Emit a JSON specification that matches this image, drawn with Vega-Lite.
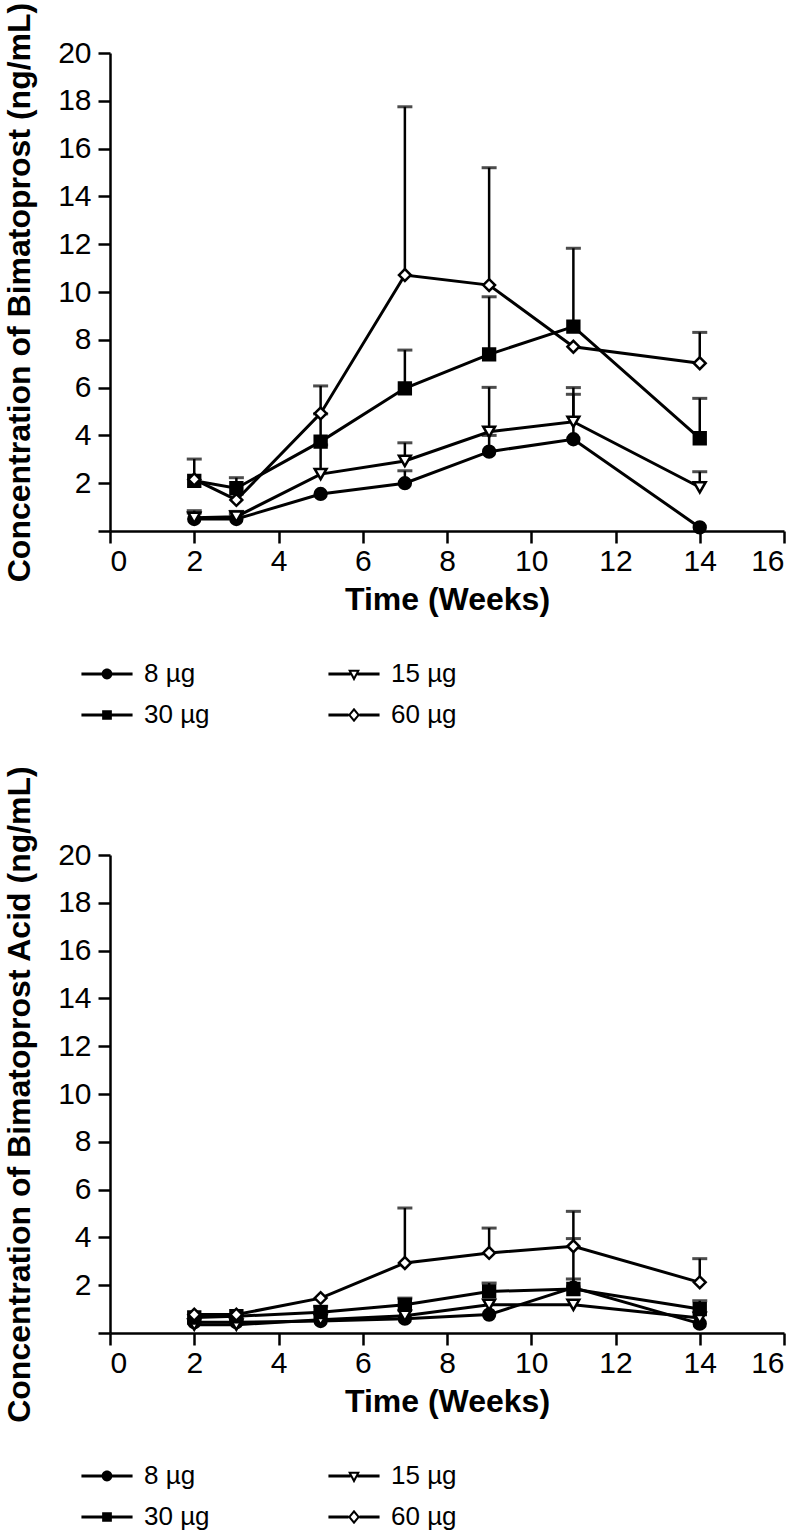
{
  "$schema": "https://vega.github.io/schema/vega-lite/v6.json",
  "background": "white",
  "padding": {"left": 3, "top": 2, "right": 10, "bottom": 0},
  "spacing": 37,
  "config": {
    "view": {"stroke": null},
    "font": "Liberation Sans",
    "axis": {
      "grid": false,
      "domainColor": "black",
      "domainWidth": 2.5,
      "tickColor": "black",
      "tickWidth": 2.5,
      "tickSize": 12,
      "labelFont": "Liberation Sans",
      "labelFontSize": 30,
      "labelColor": "black",
      "titleFont": "Liberation Sans",
      "titleFontSize": 32,
      "titleFontWeight": "bold",
      "titleColor": "black"
    },
    "legend": {
      "padding": 0,
      "labelFont": "Liberation Sans",
      "labelFontSize": 26,
      "labelColor": "black"
    }
  },
  "datasets": {
    "bima": [
      {"dose": "8 µg", "week": 2, "mean": 0.5, "upper": 0.75},
      {"dose": "8 µg", "week": 3, "mean": 0.5, "upper": 0.7},
      {"dose": "8 µg", "week": 5, "mean": 1.55, "upper": null},
      {"dose": "8 µg", "week": 7, "mean": 2.0, "upper": 2.52},
      {"dose": "8 µg", "week": 9, "mean": 3.32, "upper": 4.0},
      {"dose": "8 µg", "week": 11, "mean": 3.84, "upper": 5.72},
      {"dose": "8 µg", "week": 14, "mean": 0.15, "upper": null},
      {"dose": "15 µg", "week": 2, "mean": 0.55, "upper": 0.85},
      {"dose": "15 µg", "week": 3, "mean": 0.6, "upper": 0.82},
      {"dose": "15 µg", "week": 5, "mean": 2.38, "upper": 3.6},
      {"dose": "15 µg", "week": 7, "mean": 2.93, "upper": 3.69},
      {"dose": "15 µg", "week": 9, "mean": 4.15, "upper": 6.01},
      {"dose": "15 µg", "week": 11, "mean": 4.57, "upper": 6.0},
      {"dose": "15 µg", "week": 14, "mean": 1.83, "upper": 2.48},
      {"dose": "30 µg", "week": 2, "mean": 2.1, "upper": null},
      {"dose": "30 µg", "week": 3, "mean": 1.79, "upper": 2.23},
      {"dose": "30 µg", "week": 5, "mean": 3.74, "upper": 4.9},
      {"dose": "30 µg", "week": 7, "mean": 5.97, "upper": 7.57},
      {"dose": "30 µg", "week": 9, "mean": 7.39, "upper": 9.8},
      {"dose": "30 µg", "week": 11, "mean": 8.55, "upper": 11.83},
      {"dose": "30 µg", "week": 14, "mean": 3.88, "upper": 5.55},
      {"dose": "60 µg", "week": 2, "mean": 2.16, "upper": 3.01},
      {"dose": "60 µg", "week": 3, "mean": 1.3, "upper": null},
      {"dose": "60 µg", "week": 5, "mean": 4.92, "upper": 6.07},
      {"dose": "60 µg", "week": 7, "mean": 10.71, "upper": 17.75},
      {"dose": "60 µg", "week": 9, "mean": 10.29, "upper": 15.2},
      {"dose": "60 µg", "week": 11, "mean": 7.71, "upper": null},
      {"dose": "60 µg", "week": 14, "mean": 7.02, "upper": 8.31}
    ],
    "acid": [
      {"dose": "8 µg", "week": 2, "mean": 0.45, "upper": null},
      {"dose": "8 µg", "week": 3, "mean": 0.45, "upper": null},
      {"dose": "8 µg", "week": 5, "mean": 0.5, "upper": null},
      {"dose": "8 µg", "week": 7, "mean": 0.6, "upper": null},
      {"dose": "8 µg", "week": 9, "mean": 0.77, "upper": null},
      {"dose": "8 µg", "week": 11, "mean": 1.9, "upper": 3.95},
      {"dose": "8 µg", "week": 14, "mean": 0.39, "upper": null},
      {"dose": "15 µg", "week": 2, "mean": 0.35, "upper": null},
      {"dose": "15 µg", "week": 3, "mean": 0.35, "upper": null},
      {"dose": "15 µg", "week": 5, "mean": 0.55, "upper": null},
      {"dose": "15 µg", "week": 7, "mean": 0.72, "upper": null},
      {"dose": "15 µg", "week": 9, "mean": 1.18, "upper": null},
      {"dose": "15 µg", "week": 11, "mean": 1.18, "upper": null},
      {"dose": "15 µg", "week": 14, "mean": 0.63, "upper": null},
      {"dose": "30 µg", "week": 2, "mean": 0.65, "upper": null},
      {"dose": "30 µg", "week": 3, "mean": 0.7, "upper": null},
      {"dose": "30 µg", "week": 5, "mean": 0.87, "upper": 1.12},
      {"dose": "30 µg", "week": 7, "mean": 1.18, "upper": 1.46},
      {"dose": "30 µg", "week": 9, "mean": 1.74, "upper": 2.09},
      {"dose": "30 µg", "week": 11, "mean": 1.84, "upper": 2.26},
      {"dose": "30 µg", "week": 14, "mean": 1.0, "upper": 1.35},
      {"dose": "60 µg", "week": 2, "mean": 0.77, "upper": null},
      {"dose": "60 µg", "week": 3, "mean": 0.77, "upper": null},
      {"dose": "60 µg", "week": 5, "mean": 1.46, "upper": null},
      {"dose": "60 µg", "week": 7, "mean": 2.93, "upper": 5.23},
      {"dose": "60 µg", "week": 9, "mean": 3.35, "upper": 4.39},
      {"dose": "60 µg", "week": 11, "mean": 3.63, "upper": 5.09},
      {"dose": "60 µg", "week": 14, "mean": 2.12, "upper": 3.11}
    ]
  },
  "resolve": {
    "scale": {"shape": "independent", "fill": "independent"},
    "legend": {"shape": "independent", "fill": "independent"}
  },
  "vconcat": [
    {
      "width": 674,
      "height": 478,
      "data": {"name": "bima"},
      "resolve": {"scale": {"shape": "independent"}},
      "encoding": {
        "x": {
          "field": "week", "type": "quantitative",
          "scale": {"domain": [0, 16], "nice": false},
          "axis": {"values": [0, 2, 4, 6, 8, 10, 12, 14, 16], "title": "Time (Weeks)", "labelPadding": 3, "titlePadding": 8}
        }
      },
      "layer": [
        {
          "mark": {"type": "line", "color": "black", "strokeWidth": 3},
          "encoding": {
            "y": {
              "field": "mean", "type": "quantitative",
              "scale": {"domain": [0, 20], "nice": false},
              "title": "Concentration of Bimatoprost (ng/mL)",
              "axis": {"values": [0, 2, 4, 6, 8, 10, 12, 14, 16, 18, 20], "labelExpr": "datum.value === 0 ? '' : datum.label", "labelPadding": 7, "titlePadding": 21}
            },
            "detail": {"field": "dose"}
          }
        },
        {
          "transform": [{"filter": "isValid(datum.upper)"}],
          "mark": {"type": "rule", "color": "black", "strokeWidth": 2.5},
          "encoding": {
            "y": {"field": "mean", "type": "quantitative", "title": "Concentration of Bimatoprost (ng/mL)"},
            "y2": {"field": "upper"}
          }
        },
        {
          "transform": [{"filter": "isValid(datum.upper)"}],
          "mark": {"type": "tick", "orient": "horizontal", "color": "black", "thickness": 3, "size": 15},
          "encoding": {
            "y": {"field": "upper", "type": "quantitative", "title": "Concentration of Bimatoprost (ng/mL)"}
          }
        },
        {
          "mark": {"type": "point", "filled": true, "stroke": "black", "strokeWidth": 2.5, "size": 140, "opacity": 1},
          "encoding": {
            "y": {"field": "mean", "type": "quantitative", "title": "Concentration of Bimatoprost (ng/mL)"},
            "shape": {
              "field": "dose", "type": "nominal",
              "scale": {"domain": ["8 µg", "15 µg", "30 µg", "60 µg"], "range": ["circle", "triangle-down", "square", "diamond"]},
              "legend": null
            },
            "fill": {
              "field": "dose", "type": "nominal",
              "scale": {"domain": ["8 µg", "15 µg", "30 µg", "60 µg"], "range": ["black", "white", "black", "white"]},
              "legend": null
            }
          }
        },
        {
          "mark": {"type": "point", "filled": true, "color": "black", "opacity": 0},
          "encoding": {
            "y": {"field": "mean", "type": "quantitative", "title": "Concentration of Bimatoprost (ng/mL)"},
            "shape": {
              "field": "dose", "type": "nominal",
              "scale": {"domain": ["8 µg", "15 µg", "30 µg", "60 µg"], "range": [
                "M-1.42,-0.08L-0.28,-0.08L-0.28,0.08L-1.42,0.08ZM0.28,-0.08L1.42,-0.08L1.42,0.08L0.28,0.08ZM-0.3,0A0.3,0.3,0,1,1,0.3,0A0.3,0.3,0,1,1,-0.3,0Z",
                "M-1.42,-0.08L-0.19,-0.08L-0.19,0.08L-1.42,0.08ZM0.19,-0.08L1.42,-0.08L1.42,0.08L0.19,0.08ZM-0.33,-0.24L0.33,-0.24L0,0.4ZM-0.149,-0.129L0,0.159L0.149,-0.129Z",
                "M-1.42,-0.08L-0.26,-0.08L-0.26,0.08L-1.42,0.08ZM0.26,-0.08L1.42,-0.08L1.42,0.08L0.26,0.08ZM-0.27,-0.27L0.27,-0.27L0.27,0.27L-0.27,0.27Z",
                "M-1.42,-0.08L-0.3,-0.08L-0.3,0.08L-1.42,0.08ZM0.3,-0.08L1.42,-0.08L1.42,0.08L0.3,0.08ZM0,-0.4L0.33,0L0,0.4L-0.33,0ZM0,-0.227L-0.187,0L0,0.227L0.187,0Z"
              ]},
              "legend": {
                "title": null, "orient": "none", "legendX": -21, "legendY": 603, "direction": "horizontal",
                "columns": 2, "symbolSize": 1296, "symbolOpacity": 1, "symbolFillColor": "black", "symbolStrokeWidth": 0,
                "labelOffset": 19, "columnPadding": 118, "rowPadding": 10
              }
            }
          }
        }
      ]
    },
    {
      "width": 674,
      "height": 478,
      "data": {"name": "acid"},
      "resolve": {"scale": {"shape": "independent"}},
      "encoding": {
        "x": {
          "field": "week", "type": "quantitative",
          "scale": {"domain": [0, 16], "nice": false},
          "axis": {"values": [0, 2, 4, 6, 8, 10, 12, 14, 16], "title": "Time (Weeks)", "labelPadding": 3, "titlePadding": 8}
        }
      },
      "layer": [
        {
          "mark": {"type": "line", "color": "black", "strokeWidth": 3},
          "encoding": {
            "y": {
              "field": "mean", "type": "quantitative",
              "scale": {"domain": [0, 20], "nice": false},
              "title": "Concentration of Bimatoprost Acid (ng/mL)",
              "axis": {"values": [0, 2, 4, 6, 8, 10, 12, 14, 16, 18, 20], "labelExpr": "datum.value === 0 ? '' : datum.label", "labelPadding": 7, "titlePadding": 21}
            },
            "detail": {"field": "dose"}
          }
        },
        {
          "transform": [{"filter": "isValid(datum.upper)"}],
          "mark": {"type": "rule", "color": "black", "strokeWidth": 2.5},
          "encoding": {
            "y": {"field": "mean", "type": "quantitative", "title": "Concentration of Bimatoprost Acid (ng/mL)"},
            "y2": {"field": "upper"}
          }
        },
        {
          "transform": [{"filter": "isValid(datum.upper)"}],
          "mark": {"type": "tick", "orient": "horizontal", "color": "black", "thickness": 3, "size": 15},
          "encoding": {
            "y": {"field": "upper", "type": "quantitative", "title": "Concentration of Bimatoprost Acid (ng/mL)"}
          }
        },
        {
          "mark": {"type": "point", "filled": true, "stroke": "black", "strokeWidth": 2.5, "size": 140, "opacity": 1},
          "encoding": {
            "y": {"field": "mean", "type": "quantitative", "title": "Concentration of Bimatoprost Acid (ng/mL)"},
            "shape": {
              "field": "dose", "type": "nominal",
              "scale": {"domain": ["8 µg", "15 µg", "30 µg", "60 µg"], "range": ["circle", "triangle-down", "square", "diamond"]},
              "legend": null
            },
            "fill": {
              "field": "dose", "type": "nominal",
              "scale": {"domain": ["8 µg", "15 µg", "30 µg", "60 µg"], "range": ["black", "white", "black", "white"]},
              "legend": null
            }
          }
        },
        {
          "mark": {"type": "point", "filled": true, "color": "black", "opacity": 0},
          "encoding": {
            "y": {"field": "mean", "type": "quantitative", "title": "Concentration of Bimatoprost Acid (ng/mL)"},
            "shape": {
              "field": "dose", "type": "nominal",
              "scale": {"domain": ["8 µg", "15 µg", "30 µg", "60 µg"], "range": [
                "M-1.42,-0.08L-0.28,-0.08L-0.28,0.08L-1.42,0.08ZM0.28,-0.08L1.42,-0.08L1.42,0.08L0.28,0.08ZM-0.3,0A0.3,0.3,0,1,1,0.3,0A0.3,0.3,0,1,1,-0.3,0Z",
                "M-1.42,-0.08L-0.19,-0.08L-0.19,0.08L-1.42,0.08ZM0.19,-0.08L1.42,-0.08L1.42,0.08L0.19,0.08ZM-0.33,-0.24L0.33,-0.24L0,0.4ZM-0.149,-0.129L0,0.159L0.149,-0.129Z",
                "M-1.42,-0.08L-0.26,-0.08L-0.26,0.08L-1.42,0.08ZM0.26,-0.08L1.42,-0.08L1.42,0.08L0.26,0.08ZM-0.27,-0.27L0.27,-0.27L0.27,0.27L-0.27,0.27Z",
                "M-1.42,-0.08L-0.3,-0.08L-0.3,0.08L-1.42,0.08ZM0.3,-0.08L1.42,-0.08L1.42,0.08L0.3,0.08ZM0,-0.4L0.33,0L0,0.4L-0.33,0ZM0,-0.227L-0.187,0L0,0.227L0.187,0Z"
              ]},
              "legend": {
                "title": null, "orient": "none", "legendX": -21, "legendY": 603, "direction": "horizontal",
                "columns": 2, "symbolSize": 1296, "symbolOpacity": 1, "symbolFillColor": "black", "symbolStrokeWidth": 0,
                "labelOffset": 19, "columnPadding": 118, "rowPadding": 10
              }
            }
          }
        }
      ]
    }
  ]
}
